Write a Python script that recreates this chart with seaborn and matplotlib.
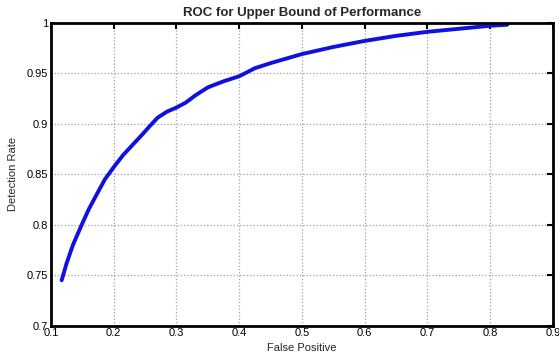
import matplotlib
matplotlib.use("Agg")
import matplotlib.pyplot as plt
import seaborn as sns
import pandas as pd

# ROC points
false_positive = [0.117, 0.125, 0.135, 0.149, 0.16, 0.172, 0.186, 0.2, 0.215, 0.23,
                  0.245, 0.258, 0.27, 0.285, 0.3, 0.315, 0.33, 0.35, 0.375, 0.4,
                  0.425, 0.45, 0.5, 0.55, 0.6, 0.65, 0.7, 0.75, 0.8, 0.827]
detection_rate = [0.745, 0.762, 0.78, 0.8, 0.815, 0.829, 0.845, 0.857, 0.869, 0.879,
                  0.889, 0.898, 0.906, 0.912, 0.916, 0.921, 0.928, 0.936, 0.942, 0.947,
                  0.955, 0.96, 0.969, 0.976, 0.982, 0.987, 0.991, 0.994, 0.997, 0.998]

df = pd.DataFrame({"False Positive": false_positive, "Detection Rate": detection_rate})

sns.set_style("white")
plt.rcParams['font.family'] = ['Liberation Sans', 'DejaVu Sans']

fig = plt.figure(figsize=(5.59, 3.59), dpi=100)
ax = fig.add_axes([0.0912, 0.0927, 0.898, 0.844])

sns.lineplot(data=df, x="False Positive", y="Detection Rate", sort=False,
             color="#1010e0", linewidth=2.8, ax=ax)

ax.set_xlim(0.1, 0.9)
ax.set_ylim(0.7, 1.0)
ax.set_xticks([0.1, 0.2, 0.3, 0.4, 0.5, 0.6, 0.7, 0.8, 0.9])
ax.set_xticklabels(["0.1", "0.2", "0.3", "0.4", "0.5", "0.6", "0.7", "0.8", "0.9"])
ax.set_yticks([0.7, 0.75, 0.8, 0.85, 0.9, 0.95, 1.0])
ax.set_yticklabels(["0.7", "0.75", "0.8", "0.85", "0.9", "0.95", "1"])

ax.grid(True, color="#a0a0a0", linestyle=":", linewidth=0.9)
ax.tick_params(direction="in", length=4, width=1.5, top=True, right=True,
               labelsize=8, colors="black", pad=2)
for s in ax.spines.values():
    s.set_color("black")
    s.set_linewidth(2.0)

ax.set_title("ROC for Upper Bound of Performance", fontsize=9.5, fontweight="bold", pad=5)
ax.set_xlabel("False Positive", fontsize=8, labelpad=3)
ax.set_ylabel("Detection Rate", fontsize=8, labelpad=6)

fig.savefig("out.png", dpi=100)
